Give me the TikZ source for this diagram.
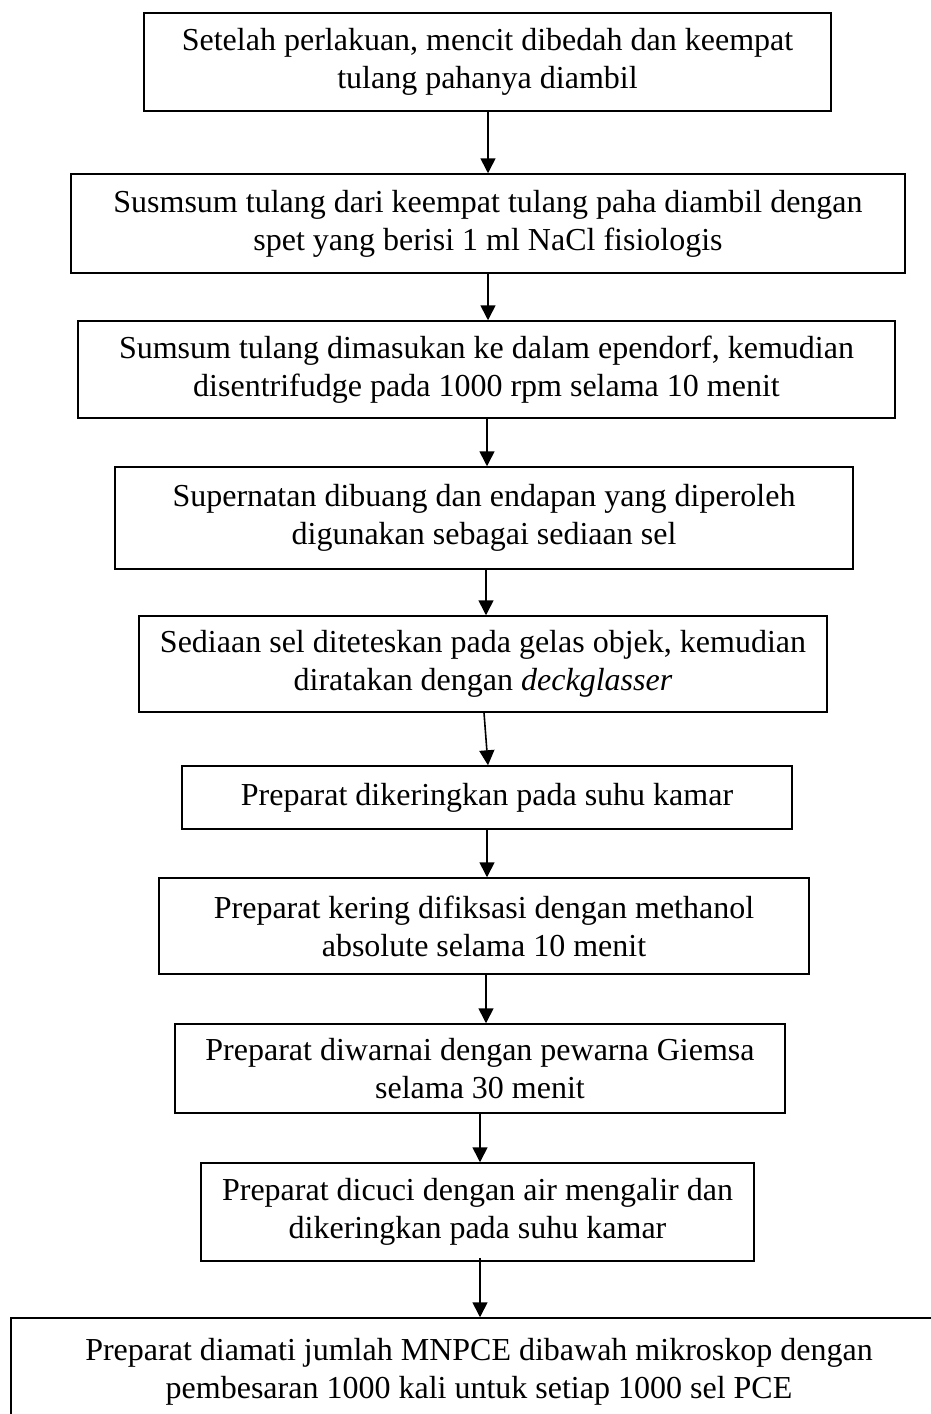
\documentclass[tikz,border=0pt]{standalone}
\usepackage{fontspec}
\setmainfont{Liberation Serif}
\usetikzlibrary{arrows.meta}
\begin{document}
\begin{tikzpicture}[x=1pt,y=-1pt,
  stepbox/.style={draw=black,line width=1.5pt,align=center,inner sep=0pt,
    font=\fontsize{32}{38}\selectfont},
  arr/.style={line width=1.6pt,-{Triangle[length=15pt,width=15pt]}}]
\useasboundingbox (0,0) rectangle (931,1414);
\clip (0,0) rectangle (931,1414);
\fill[white] (0,0) rectangle (931,1414);
\node[stepbox,minimum width=687pt,minimum height=98pt] (b1) at (487.5,62)
  {Setelah perlakuan, mencit dibedah dan keempat\\tulang pahanya diambil};
\node[stepbox,minimum width=834pt,minimum height=99pt] (b2) at (488,223.5)
  {Susmsum tulang dari keempat tulang paha diambil dengan\\spet yang berisi 1 ml NaCl fisiologis};
\node[stepbox,minimum width=817pt,minimum height=97pt] (b3) at (486.5,369.5)
  {Sumsum tulang dimasukan ke dalam ependorf, kemudian\\disentrifudge pada 1000 rpm selama 10 menit};
\node[stepbox,minimum width=738pt,minimum height=102pt] (b4) at (484,518)
  {Supernatan dibuang dan endapan yang diperoleh\\digunakan sebagai sediaan sel};
\node[stepbox,minimum width=688pt,minimum height=96pt] (b5) at (483,664)
  {Sediaan sel diteteskan pada gelas objek, kemudian\\diratakan dengan \textit{deckglasser}};
\node[stepbox,minimum width=610pt,minimum height=63pt] (b6) at (487,797.5)
  {Preparat dikeringkan pada suhu kamar};
\node[stepbox,minimum width=650pt,minimum height=96pt] (b7) at (484,926)
  {Preparat kering difiksasi dengan methanol\\absolute selama 10 menit};
\node[stepbox,minimum width=610pt,minimum height=89pt] (b8) at (480,1068.5)
  {Preparat diwarnai dengan pewarna Giemsa\\selama 30 menit};
\node[stepbox,minimum width=553pt,minimum height=98pt] (b9) at (477.5,1212)
  {Preparat dicuci dengan air mengalir dan\\dikeringkan pada suhu kamar};
\node[stepbox,minimum width=936pt,minimum height=108pt] (b10) at (479,1372)
  {Preparat diamati jumlah MNPCE dibawah mikroskop dengan\\pembesaran 1000 kali untuk setiap 1000 sel PCE};
\draw[arr] (b1.south -| 488,0) -- (b2.north -| 488,0);
\draw[arr] (b2.south -| 488,0) -- (b3.north -| 488,0);
\draw[arr] (b3.south -| 487,0) -- (b4.north -| 487,0);
\draw[arr] (b4.south -| 486,0) -- (b5.north -| 486,0);
\draw[arr] (b5.south -| 484,0) -- (b6.north -| 488,0);
\draw[arr] (b6.south -| 487,0) -- (b7.north -| 487,0);
\draw[arr] (b7.south -| 486,0) -- (b8.north -| 486,0);
\draw[arr] (b8.south -| 480,0) -- (b9.north -| 480,0);
\draw[arr] ([yshift=4pt]b9.south -| 480,0) -- (b10.north -| 480,0);
\end{tikzpicture}
\end{document}
